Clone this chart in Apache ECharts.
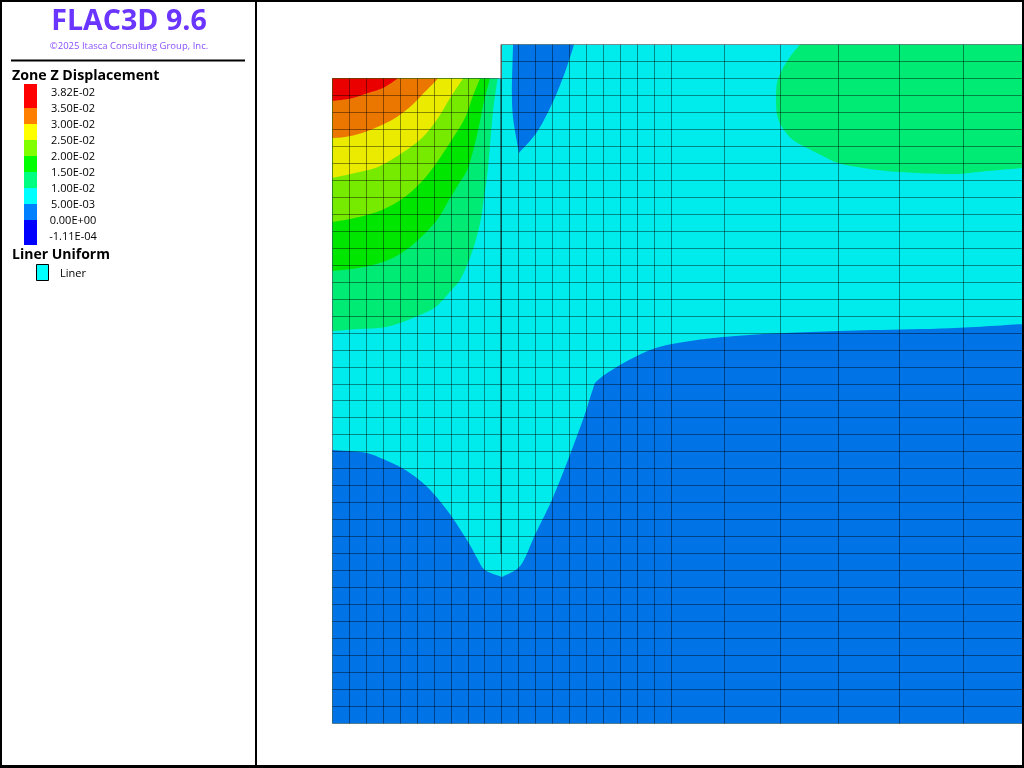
<!DOCTYPE html>
<html>
<head>
<meta charset="utf-8">
<style>html,body{margin:0;padding:0;background:#fff}#c{width:1024px;height:768px}</style>
<script src="https://cdn.jsdelivr.net/npm/echarts@6/dist/echarts.min.js"></script>
</head>
<body>
<div id="c"></div>
<script>
// Model geometry (metres)
var xMax = 40.79, yTop = 40, excavationLevel = 38, wallX = 10, wallToeY = 10;
var meshX = [0,1,2,3,4,5,6,7,8,9,10,11,12,13,14,15,16,17,18,19,20,23.14,26.45,29.87,33.47,37.24];
var meshY = [0,1,2,3,4,5,6,7,8,9,10,11,12,13,14,15,16,17,18,19,20,21,22,23,24,25,26,27,28,29,30,31,32,33,34,35,36,37,38,39,40];

// Contour bands: boundary polylines
var modelOutline = [[0,0],[0,38],[10,38],[10,40],[40.79,40],[40.79,0]];
var band10to15Left = [[9.75,38],[9.47,36.02],[9.18,32.73],[8.88,30.55],[8.75,29.66],[8.41,28.3],[8,27.13],[7.53,26.13],[7.03,25.54],[6.23,24.66],[5.46,24.19],[4.46,23.77],[3.1,23.35],[1.51,23.24],[0,23.12],[0,38]];
var band15to20 = [[9.29,38],[8.94,36.61],[8.53,34.67],[8,32.73],[7.41,31.73],[6.81,30.73],[6.17,29.66],[5.05,28.48],[4.08,27.72],[2.98,27.19],[1.51,26.83],[0,26.66],[0,38]];
var band20to25 = [[8.71,38],[8.24,36.84],[7.82,35.67],[7.11,34.49],[6.34,33.31],[5.46,32.14],[4.27,31.02],[2.92,30.25],[1.51,29.83],[0,29.54],[0,38]];
var band25to30 = [[7.71,38],[7.05,37.02],[6.23,35.67],[5.28,34.49],[4.1,33.61],[2.69,32.79],[1.32,32.43],[0,32.14],[0,38]];
var band30to35 = [[6.23,38],[5.46,37.21],[4.7,36.43],[3.8,35.73],[2.92,35.26],[1.75,34.79],[0.74,34.55],[0,34.49],[0,38]];
var band35up = [[3.85,38],[2.98,37.44],[2.1,37.15],[1.15,36.84],[0,36.68],[0,38]];
var band0to5Wedge = [[10.66,40],[10.59,37.21],[10.66,35.67],[10.89,34.26],[11.01,33.61],[12.07,34.84],[13.01,36.61],[13.73,38.38],[14.26,40]];
var band10to15Right = [[27.59,40],[27,39.27],[26.53,38.5],[26.24,37.74],[26.18,36.84],[26.24,35.84],[26.53,35.14],[27.18,34.37],[28.01,33.9],[28.95,33.43],[29.84,33.02],[31.32,32.73],[33.49,32.49],[36.62,32.37],[38.63,32.55],[40.79,32.73],[40.79,40]];
var band0to5Lower = [[0,0],[0,16.11],[0.91,16.05],[2.04,15.93],[2.98,15.58],[4.1,15.05],[5.05,14.4],[5.93,13.58],[6.93,12.34],[8,10.7],[8.53,9.75],[9,9.04],[10,8.63],[10.89,9.1],[11.36,9.75],[11.95,11.11],[12.95,13.17],[13.9,15.52],[14.84,18.06],[15.2,19.18],[15.49,20.06],[15.96,20.47],[16.97,21.12],[17.97,21.65],[18.91,22.06],[20.04,22.35],[21.51,22.59],[23.11,22.77],[25.41,22.94],[28.19,23.06],[31.9,23.18],[36.44,23.29],[40.79,23.54],[40.79,0]];

// Legend
var legendLabels = ['3.82E-02','3.50E-02','3.00E-02','2.50E-02','2.00E-02','1.50E-02','1.00E-02','5.00E-03','0.00E+00','-1.11E-04'];
var legendColors = ['#ff0000','#ff8000','#ffff00','#80ff00','#00ff00','#00ff80','#00ffff','#0080ff','#0000ff'];

var shaded = {red:'#eb0000',orange:'#eb7600',yellow:'#ebeb00',lime:'#76eb00',green:'#00e600',spring:'#00eb73',cyan:'#00ecec',blue:'#0073e6'};

// Path through screen points: Catmull-Rom between the sharp indices, straight closing edge
function contourPath(p, sharp){
  var d='M'+p[0][0]+' '+p[0][1];
  for(var s=0;s<sharp.length-1;s++){
    var a=sharp[s], b=sharp[s+1];
    for(var i=a;i<b;i++){
      var p0=p[i>a?i-1:i], p1=p[i], p2=p[i+1], p3=p[i+1<b?i+2:i+1];
      d+=' C'+(p1[0]+(p2[0]-p0[0])/6)+' '+(p1[1]+(p2[1]-p0[1])/6)+' '+
             (p2[0]-(p3[0]-p1[0])/6)+' '+(p2[1]-(p3[1]-p1[1])/6)+' '+p2[0]+' '+p2[1];
    }
  }
  return d+' Z';
}
function bandSeries(name, pts, color, sharp){
  return {
    type:'custom', name:name, coordinateSystem:'cartesian2d', clip:true, silent:true,
    data:pts, encode:{x:0,y:1},
    renderItem:function(params, api){
      if(params.dataIndex!==0) return null;
      var scr=pts.map(function(q){return api.coord(q);});
      return {type:'path', shape:{pathData:contourPath(scr,sharp)}, style:{fill:color, stroke:null}};
    }
  };
}
function leftSharp(p){return [0,p.length-2,p.length-1];}
function snap(v){return Math.floor(v)+0.5;}

var meshSegments = [];
meshX.forEach(function(x){ meshSegments.push([x,0,x,x<wallX?excavationLevel:yTop]); });
meshY.forEach(function(y){ meshSegments.push([y>excavationLevel?wallX:0,y,xMax,y]); });

var meshSeries = {
  type:'custom', name:'Mesh', coordinateSystem:'cartesian2d', clip:false, silent:true,
  data:meshSegments, encode:{x:[0,2],y:[1,3]},
  renderItem:function(params, api){
    var a=api.coord([api.value(0),api.value(1)]), b=api.coord([api.value(2),api.value(3)]);
    return {type:'line', shape:{x1:snap(a[0]),y1:snap(a[1]),x2:snap(b[0]),y2:snap(b[1])},
            style:{stroke:'rgba(0,0,0,0.42)',lineWidth:1,fill:null}};
  }
};
var wallSegments = [[wallX,wallToeY,wallX,excavationLevel,'rgba(0,0,0,0.42)'],[wallX,excavationLevel,wallX,yTop,'#a8a8a8']];
var wallSeries = {
  type:'custom', name:'Liner', coordinateSystem:'cartesian2d', clip:false, silent:true,
  data:wallSegments, encode:{x:[0,2],y:[1,3]},
  renderItem:function(params, api){
    var s=wallSegments[params.dataIndex];
    var a=api.coord([s[0],s[1]]), b=api.coord([s[2],s[3]]);
    return {type:'line', shape:{x1:Math.floor(a[0]),y1:snap(a[1]),x2:Math.floor(b[0]),y2:snap(b[1])},
            style:{stroke:s[4],lineWidth:2,fill:null}};
  }
};

var font = '"Open Sans", "Noto Sans", sans-serif';
var g = [];
function rect(x,y,w,h,fill,stroke,lw){
  g.push({type:'rect',z:100,silent:true,shape:{x:x,y:y,width:w,height:h},style:{fill:fill,stroke:stroke||null,lineWidth:lw||0}});
}
function text(t,x,y,size,weight,color,align){
  g.push({type:'text',z:101,silent:true,x:x,y:y,style:{text:t,font:weight+' '+size+'px '+font,fill:color,align:align||'left',verticalAlign:'middle'}});
}
// frame
rect(0,0,1024,2,'#000'); rect(0,765,1024,3,'#000'); rect(0,0,2,768,'#000'); rect(1022,0,2,768,'#000'); rect(255,0,2,768,'#000');
// header
text('FLAC3D 9.6',129,22,28.6,'bold','#6a35ff','center');
text('©2025 Itasca Consulting Group, Inc.',129,46,9.5,'normal','#8a50ff','center');
rect(11,59.5,234,2,'#000');
text('Zone Z Displacement',12,75.5,14.2,'bold','#000');
// colour bar
var yy=84;
legendColors.forEach(function(c,i){
  var h = i===0?24:(i===legendColors.length-1?25:16);
  rect(24,yy,13,h,c); yy+=h;
});
legendLabels.forEach(function(l,i){ text(l,73,93+16*i,11,'normal','#000','center'); });
text('Liner Uniform',12,255.5,14,'bold','#000');
rect(36.5,264.5,12,16,'#00ffff','#000',1);
text('Liner',60,273.5,11,'normal','#000');

var chart = echarts.init(document.getElementById('c'),null,{renderer:'canvas',width:1024,height:768});
chart.setOption({
  animation:false, backgroundColor:'#fff',
  grid:{left:332.5,top:44.5,width:691,height:679,show:false},
  xAxis:{type:'value',min:0,max:xMax,show:false},
  yAxis:{type:'value',min:0,max:yTop,show:false},
  series:[
    bandSeries('5.0E-03 to 1.0E-02',modelOutline,shaded.cyan,[0,1,2,3,4,5]),
    bandSeries('1.0E-02 to 1.5E-02 left',band10to15Left,shaded.spring,leftSharp(band10to15Left)),
    bandSeries('1.5E-02 to 2.0E-02',band15to20,shaded.green,leftSharp(band15to20)),
    bandSeries('2.0E-02 to 2.5E-02',band20to25,shaded.lime,leftSharp(band20to25)),
    bandSeries('2.5E-02 to 3.0E-02',band25to30,shaded.yellow,leftSharp(band25to30)),
    bandSeries('3.0E-02 to 3.5E-02',band30to35,shaded.orange,leftSharp(band30to35)),
    bandSeries('3.5E-02 to 3.82E-02',band35up,shaded.red,leftSharp(band35up)),
    bandSeries('0 to 5.0E-03 wedge',band0to5Wedge,shaded.blue,[0,4,8]),
    bandSeries('1.0E-02 to 1.5E-02 right',band10to15Right,shaded.spring,[0,15,16]),
    bandSeries('0 to 5.0E-03 lower',band0to5Lower,shaded.blue,[0,1,12,20,32,33]),
    wallSeries,
    meshSeries
  ],
  graphic:{elements:g}
});
</script>
</body>
</html>
